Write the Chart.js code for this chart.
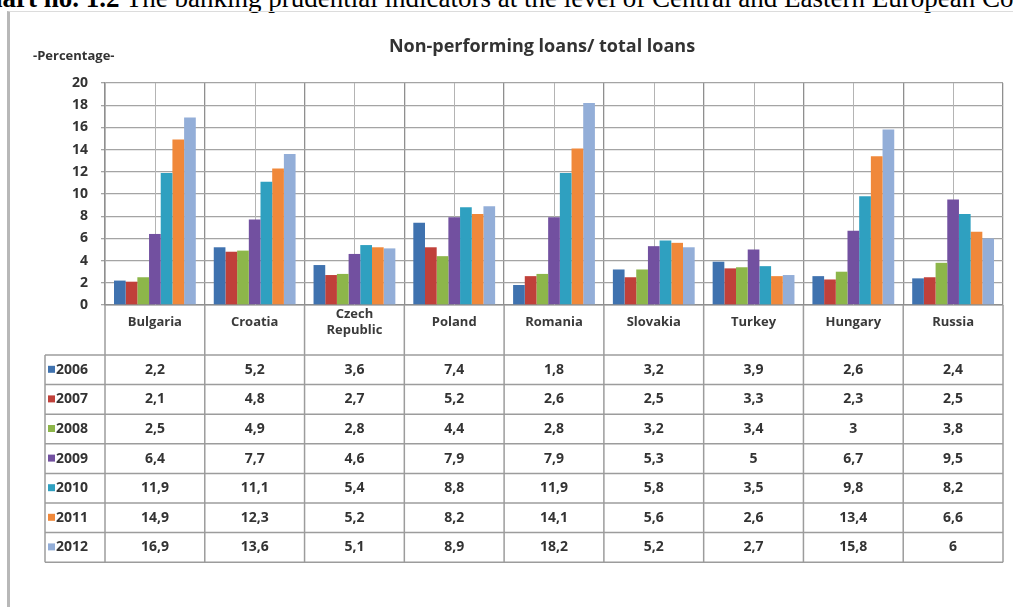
<!DOCTYPE html>
<html>
<head>
<meta charset="utf-8">
<title>Non-performing loans / total loans</title>
<script src="https://cdn.jsdelivr.net/npm/chart.js@4.4.0/dist/chart.umd.min.js"></script>
<style>
  body { margin: 0; width: 1013px; height: 607px; overflow: hidden; position: relative; background: #fff; }
  #caption {
    position: absolute; left: -32px; top: -15px; white-space: nowrap;
    font-family: "Liberation Serif", serif; font-size: 27px; line-height: 27px; color: #000;
  }
  #frame {
    position: absolute; left: 7px; top: 11px; width: 1010px; height: 600px;
    border-left: 3px solid #b8b8b8; border-top: 1px solid #dcdcdc;
  }
  #chart { position: absolute; left: 0; top: 0; }
</style>
</head>
<body>
<div id="caption"><b>Chart no. 1.2</b> The banking prudential indicators at the level of Central and Eastern European Countries</div>
<div id="frame"></div>
<canvas id="chart" width="1013" height="607"></canvas>
<script>
const countries = ["Bulgaria", "Croatia", ["Czech", "Republic"], "Poland", "Romania", "Slovakia", "Turkey", "Hungary", "Russia"];
const years = ["2006", "2007", "2008", "2009", "2010", "2011", "2012"];

const npl2006 = [2.2, 5.2, 3.6, 7.4, 1.8, 3.2, 3.9, 2.6, 2.4];
const npl2007 = [2.1, 4.8, 2.7, 5.2, 2.6, 2.5, 3.3, 2.3, 2.5];
const npl2008 = [2.5, 4.9, 2.8, 4.4, 2.8, 3.2, 3.4, 3, 3.8];
const npl2009 = [6.4, 7.7, 4.6, 7.9, 7.9, 5.3, 5, 6.7, 9.5];
const npl2010 = [11.9, 11.1, 5.4, 8.8, 11.9, 5.8, 3.5, 9.8, 8.2];
const npl2011 = [14.9, 12.3, 5.2, 8.2, 14.1, 5.6, 2.6, 13.4, 6.6];
const npl2012 = [16.9, 13.6, 5.1, 8.9, 18.2, 5.2, 2.7, 15.8, 6];

const yMin = 0;
const yMax = 20;
const yStep = 2;

const chartTitle = "Non-performing loans/ total loans";
const yLabel = "-Percentage-";

const colours = ["#3f72af", "#c0403a", "#8db64a", "#7250a0", "#2fa0c0", "#f0883a", "#93aed8"];
const series = [npl2006, npl2007, npl2008, npl2009, npl2010, npl2011, npl2012];

const FONT = "'Open Sans', 'DejaVu Sans', sans-serif";
const HEADER_H = 50;   // row with country names
const ROW_H = 29.6;    // rows of the data table
const TABLE_LEFT = 45;

// affiche une valeur avec la virgule décimale
function fmt(v) {
  return String(v).replace(".", ",");
}

// lignes verticales au milieu de chaque catégorie
const midLines = {
  id: "midLines",
  beforeDatasetsDraw(chart) {
    const ctx = chart.ctx;
    const area = chart.chartArea;
    const x = chart.scales.x;
    ctx.save();
    ctx.strokeStyle = "#b4b4b4";
    ctx.lineWidth = 1;
    countries.forEach((c, i) => {
      const px = Math.round(x.getPixelForValue(i)) + 0.5;
      ctx.beginPath();
      ctx.moveTo(px, area.top);
      ctx.lineTo(px, area.bottom);
      ctx.stroke();
    });
    ctx.restore();
  }
};

// titre, libellé de l'axe et tableau de données
const tableAndTexts = {
  id: "tableAndTexts",
  afterDraw(chart) {
    const ctx = chart.ctx;
    const area = chart.chartArea;
    const x = chart.scales.x;
    const w = x.getPixelForValue(1) - x.getPixelForValue(0);
    const top = area.bottom + HEADER_H;
    const bottom = top + ROW_H * years.length;

    ctx.save();
    ctx.fillStyle = "#333";
    ctx.textBaseline = "middle";
    ctx.font = "bold 18px " + FONT;
    ctx.textAlign = "center";
    ctx.fillText(chartTitle, 542, 47);
    ctx.font = "bold 13px " + FONT;
    ctx.textAlign = "left";
    ctx.fillText(yLabel, 33, 56);

    // grille du tableau
    ctx.strokeStyle = "#9c9c9c";
    ctx.lineWidth = 1.5;
    for (let r = 0; r <= years.length; r++) {
      const y = top + r * ROW_H;
      ctx.beginPath();
      ctx.moveTo(TABLE_LEFT, y);
      ctx.lineTo(area.right, y);
      ctx.stroke();
    }
    ctx.beginPath();
    ctx.moveTo(TABLE_LEFT, top);
    ctx.lineTo(TABLE_LEFT, bottom);
    ctx.stroke();
    for (let i = 0; i <= countries.length; i++) {
      const bx = x.getPixelForValue(i) - w / 2;
      ctx.beginPath();
      ctx.moveTo(bx, area.bottom);
      ctx.lineTo(bx, bottom);
      ctx.stroke();
    }

    // lignes de valeurs
    ctx.font = "bold 14px " + FONT;
    series.forEach((values, j) => {
      const cy = top + (j + 0.5) * ROW_H;
      ctx.fillStyle = colours[j];
      ctx.fillRect(48, cy - 4, 7, 7);
      ctx.fillStyle = "#333";
      ctx.textAlign = "left";
      ctx.fillText(years[j], 56, cy);
      ctx.textAlign = "center";
      values.forEach((v, i) => {
        ctx.fillText(fmt(v), x.getPixelForValue(i), cy);
      });
    });
    ctx.restore();
  }
};

const datasets = series.map((values, j) => ({
  label: years[j],
  data: values,
  backgroundColor: colours[j],
  borderWidth: 0,
  categoryPercentage: 0.82,
  barPercentage: 1.0
}));

new Chart(document.getElementById("chart"), {
  type: "bar",
  data: { labels: countries, datasets: datasets },
  plugins: [midLines, tableAndTexts],
  options: {
    responsive: false,
    animation: false,
    layout: { padding: { top: 83, left: 0, right: 10, bottom: 252 } },
    plugins: {
      legend: { display: false },
      title: { display: false },
      tooltip: { enabled: false }
    },
    scales: {
      x: {
        afterFit: (scale) => { scale.height = HEADER_H; },
        grid: { offset: true, color: "#8f8f8f", lineWidth: 1.3, drawTicks: false },
        border: { color: "#8f8f8f", width: 1.5 },
        ticks: {
          color: "#3a3a3a",
          font: { family: FONT, size: 13, weight: "bold", lineHeight: 1.25 },
          padding: 9,
          crossAlign: "center",
          maxRotation: 0,
          autoSkip: false
        }
      },
      y: {
        min: yMin,
        max: yMax,
        afterFit: (scale) => { scale.width = 105; },
        grid: { color: "#a4a4a4", lineWidth: 1.3, tickLength: 4 },
        border: { color: "#8f8f8f", width: 1.5 },
        ticks: {
          stepSize: yStep,
          color: "#333",
          font: { family: FONT, size: 14, weight: "bold" },
          padding: 13
        }
      }
    }
  }
});
</script>
</body>
</html>
